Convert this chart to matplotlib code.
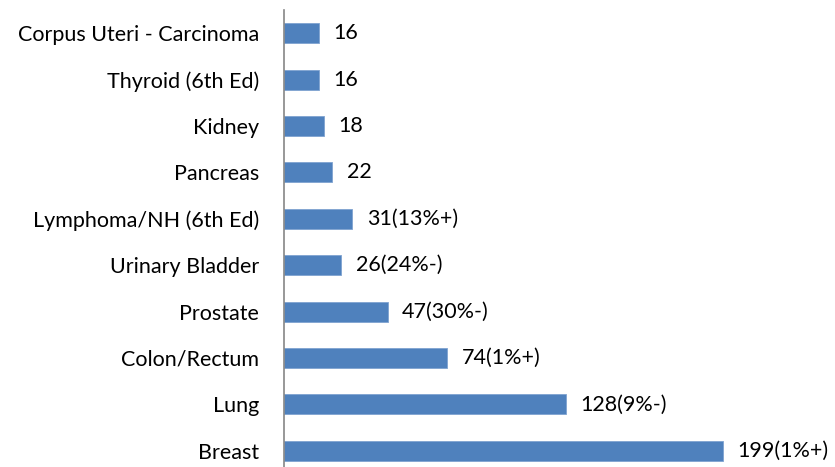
import matplotlib
matplotlib.use("Agg")
from matplotlib import pyplot as plt

# data, top to bottom as shown in the chart
sites = ["Corpus Uteri - Carcinoma", "Thyroid (6th Ed)", "Kidney", "Pancreas",
         "Lymphoma/NH (6th Ed)", "Urinary Bladder", "Prostate", "Colon/Rectum",
         "Lung", "Breast"]
counts = [16, 16, 18, 22, 31, 26, 47, 74, 128, 199]
changes = ["", "", "", "", "(13%+)", "(24%-)", "(30%-)", "(1%+)", "(9%-)", "(1%+)"]

plt.rcParams['font.family'] = ['Lato', 'DejaVu Sans']

fig = plt.figure(figsize=(8.35, 4.67), dpi=100)
ax = fig.add_axes([284 / 835, -7 / 467, 551 / 835, 464 / 467])

# reverse so the first site is at the top
ypos = list(range(len(sites)))[::-1]
ax.barh(ypos, counts, height=0.43, color="#4F81BD", edgecolor="#7FA3D0", linewidth=0.6)

for y, c, ch in zip(ypos, counts, changes):
    ax.text(c + 6.5, y, f"{c}{ch}", va="center", ha="left", fontsize=15.5,
            color="black", clip_on=False)

ax.set_yticks(ypos)
ax.set_yticklabels(sites, fontsize=15.5, color="black")
ax.tick_params(axis="y", length=0, pad=18)
ax.set_xticks([])
ax.set_xlim(0, 250)
ax.set_ylim(-0.5, 9.5)

for side in ["top", "right", "bottom"]:
    ax.spines[side].set_visible(False)
ax.spines["left"].set_color("#868686")
ax.spines["left"].set_linewidth(1.2)

fig.savefig("out.png", dpi=100)
